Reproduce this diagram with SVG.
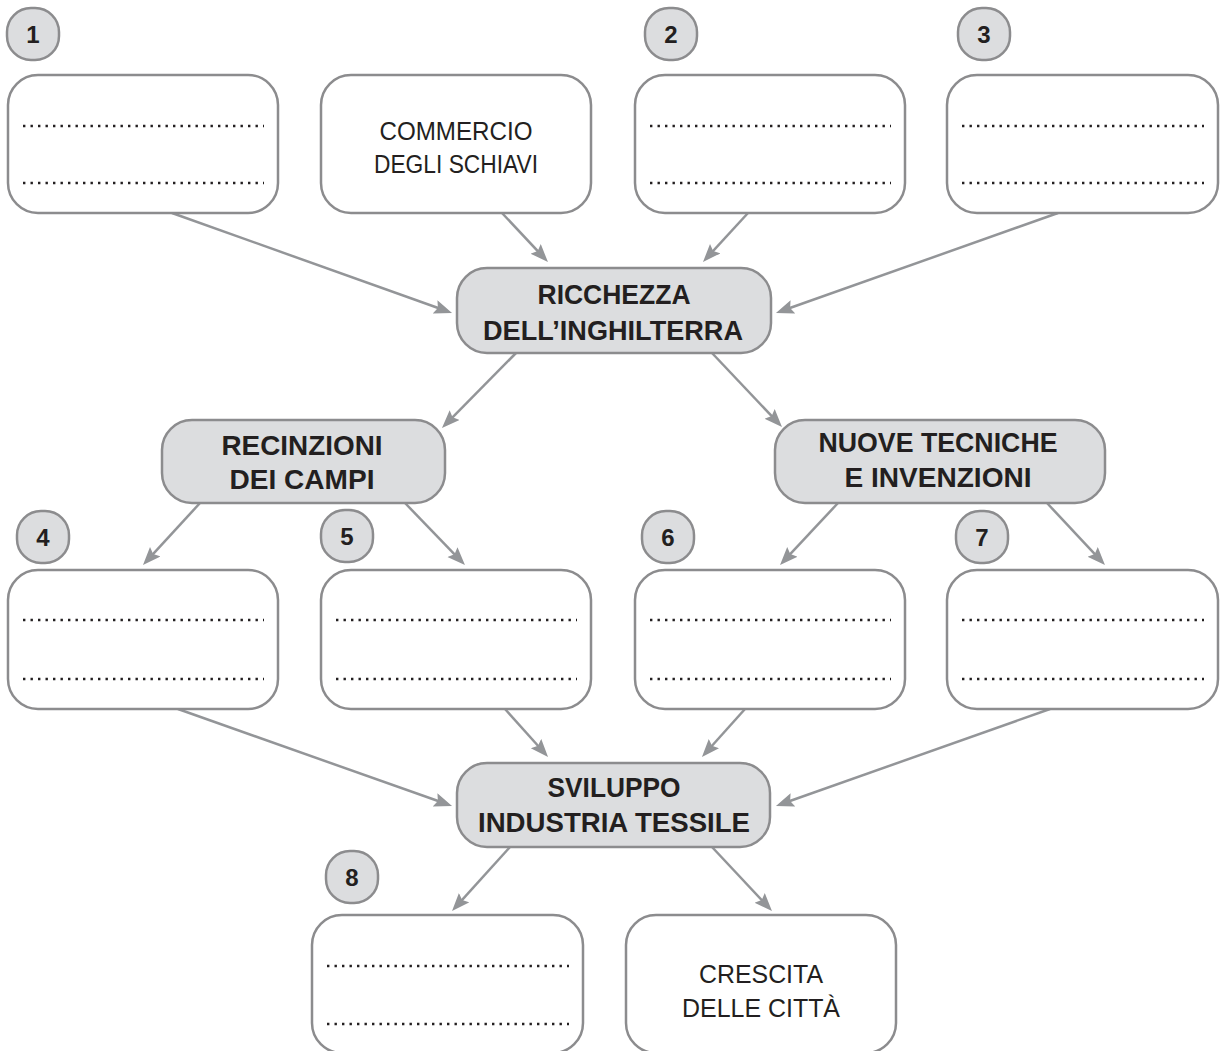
<svg xmlns="http://www.w3.org/2000/svg" width="1223" height="1051" viewBox="0 0 1223 1051">
<style>
.box{fill:#ffffff;stroke:#8c8c8e;stroke-width:2.5}
.hub{fill:#dcdddf;stroke:#8c8c8e;stroke-width:2.5}
.badge{fill:#dcdddf;stroke:#8c8c8e;stroke-width:2.5}
.dots{stroke:#231f20;stroke-width:2.4;stroke-dasharray:2.4 5.1;fill:none}
.num{font-family:"Liberation Sans",Arial,sans-serif;font-weight:bold;font-size:24px;fill:#231f20;text-anchor:middle}
.hubt{font-family:"Liberation Sans",Arial,sans-serif;font-weight:bold;font-size:28px;fill:#231f20;text-anchor:middle}
.reg{font-family:"Liberation Sans",Arial,sans-serif;font-size:25px;fill:#231f20;text-anchor:middle}
.conn{stroke:#939598;stroke-width:2.5;fill:none;marker-end:url(#ah)}
</style>
<defs>
<marker id="ah" markerUnits="userSpaceOnUse" markerWidth="20" markerHeight="16" refX="10" refY="7" orient="auto">
<path d="M0,0 L18,7 L0,14 L3,7 Z" fill="#939598"/>
</marker>
</defs>

<g id="connectors">
<line class="conn" x1="172" y1="213" x2="444.5" y2="310.3"/>
<line class="conn" x1="502" y1="213" x2="542.5" y2="256.2"/>
<line class="conn" x1="748" y1="213" x2="708.4" y2="256.1"/>
<line class="conn" x1="1058" y1="213" x2="783.5" y2="310.3"/>
<line class="conn" x1="516" y1="353" x2="447.6" y2="422.3"/>
<line class="conn" x1="712" y1="353" x2="776.5" y2="421.2"/>
<line class="conn" x1="200" y1="503" x2="148.4" y2="559.1"/>
<line class="conn" x1="405" y1="503" x2="459.4" y2="559.3"/>
<line class="conn" x1="838" y1="503" x2="785.5" y2="559.2"/>
<line class="conn" x1="1047" y1="503" x2="1099.5" y2="559.2"/>
<line class="conn" x1="178" y1="709" x2="444.5" y2="803.3"/>
<line class="conn" x1="505" y1="709" x2="542.7" y2="751"/>
<line class="conn" x1="745" y1="709" x2="707.3" y2="751"/>
<line class="conn" x1="1050" y1="709" x2="783.5" y2="803.3"/>
<line class="conn" x1="510" y1="847" x2="457.4" y2="905.1"/>
<line class="conn" x1="712" y1="847" x2="766.5" y2="905.2"/>
</g>

<g id="badge1"><rect class="badge" x="7" y="8" width="52" height="52" rx="24"/><text class="num" x="33" y="43">1</text></g>
<g id="badge2"><rect class="badge" x="645" y="8" width="52" height="52" rx="24"/><text class="num" x="671" y="43">2</text></g>
<g id="badge3"><rect class="badge" x="958" y="8" width="52" height="52" rx="24"/><text class="num" x="984" y="43">3</text></g>
<g id="badge4"><rect class="badge" x="17" y="511" width="52" height="52" rx="24"/><text class="num" x="43" y="546">4</text></g>
<g id="badge5"><rect class="badge" x="321" y="510" width="52" height="52" rx="24"/><text class="num" x="347" y="545">5</text></g>
<g id="badge6"><rect class="badge" x="642" y="511" width="52" height="52" rx="24"/><text class="num" x="668" y="546">6</text></g>
<g id="badge7"><rect class="badge" x="956" y="511" width="52" height="52" rx="24"/><text class="num" x="982" y="546">7</text></g>
<g id="badge8"><rect class="badge" x="326" y="851" width="52" height="52" rx="24"/><text class="num" x="352" y="886">8</text></g>

<g id="box1"><rect class="box" x="8" y="75" width="270" height="138" rx="30"/><line class="dots" x1="23" y1="126" x2="264" y2="126"/><line class="dots" x1="23" y1="183" x2="264" y2="183"/></g>
<g id="commercio"><rect class="box" x="321" y="75" width="270" height="138" rx="30"/><text class="reg" x="456" y="140" textLength="153" lengthAdjust="spacingAndGlyphs">COMMERCIO</text><text class="reg" x="456" y="173" textLength="164" lengthAdjust="spacingAndGlyphs">DEGLI SCHIAVI</text></g>
<g id="box2"><rect class="box" x="635" y="75" width="270" height="138" rx="30"/><line class="dots" x1="650" y1="126" x2="891" y2="126"/><line class="dots" x1="650" y1="183" x2="891" y2="183"/></g>
<g id="box3"><rect class="box" x="947" y="75" width="271" height="138" rx="30"/><line class="dots" x1="962" y1="126" x2="1204" y2="126"/><line class="dots" x1="962" y1="183" x2="1204" y2="183"/></g>

<g id="ricchezza"><rect class="hub" x="457" y="268" width="314" height="85" rx="30"/><text class="hubt" x="614" y="304" textLength="153" lengthAdjust="spacingAndGlyphs">RICCHEZZA</text><text class="hubt" x="613" y="340" textLength="260" lengthAdjust="spacingAndGlyphs">DELL’INGHILTERRA</text></g>

<g id="recinzioni"><rect class="hub" x="162" y="420" width="283" height="83" rx="30"/><text class="hubt" x="302" y="455" textLength="161" lengthAdjust="spacingAndGlyphs">RECINZIONI</text><text class="hubt" x="302" y="489" textLength="145" lengthAdjust="spacingAndGlyphs">DEI CAMPI</text></g>

<g id="nuove"><rect class="hub" x="775" y="420" width="330" height="83" rx="30"/><text class="hubt" x="938" y="452" textLength="239" lengthAdjust="spacingAndGlyphs">NUOVE TECNICHE</text><text class="hubt" x="938" y="487" textLength="187" lengthAdjust="spacingAndGlyphs">E INVENZIONI</text></g>

<g id="box4"><rect class="box" x="8" y="570" width="270" height="139" rx="30"/><line class="dots" x1="23" y1="620" x2="264" y2="620"/><line class="dots" x1="23" y1="679" x2="264" y2="679"/></g>
<g id="box5"><rect class="box" x="321" y="570" width="270" height="139" rx="30"/><line class="dots" x1="336" y1="620" x2="577" y2="620"/><line class="dots" x1="336" y1="679" x2="577" y2="679"/></g>
<g id="box6"><rect class="box" x="635" y="570" width="270" height="139" rx="30"/><line class="dots" x1="650" y1="620" x2="891" y2="620"/><line class="dots" x1="650" y1="679" x2="891" y2="679"/></g>
<g id="box7"><rect class="box" x="947" y="570" width="271" height="139" rx="30"/><line class="dots" x1="962" y1="620" x2="1204" y2="620"/><line class="dots" x1="962" y1="679" x2="1204" y2="679"/></g>

<g id="sviluppo"><rect class="hub" x="457" y="763" width="313" height="84" rx="30"/><text class="hubt" x="614" y="797" textLength="133" lengthAdjust="spacingAndGlyphs">SVILUPPO</text><text class="hubt" x="614" y="832" textLength="272" lengthAdjust="spacingAndGlyphs">INDUSTRIA TESSILE</text></g>

<g id="box8"><rect class="box" x="312" y="915" width="271" height="138" rx="30"/><line class="dots" x1="327" y1="966" x2="569" y2="966"/><line class="dots" x1="327" y1="1024" x2="569" y2="1024"/></g>
<g id="crescita"><rect class="box" x="626" y="915" width="270" height="138" rx="30"/><text class="reg" x="761" y="983" textLength="124" lengthAdjust="spacingAndGlyphs">CRESCITA</text><text class="reg" x="761" y="1017" textLength="158" lengthAdjust="spacingAndGlyphs">DELLE CITTÀ</text></g>
</svg>
